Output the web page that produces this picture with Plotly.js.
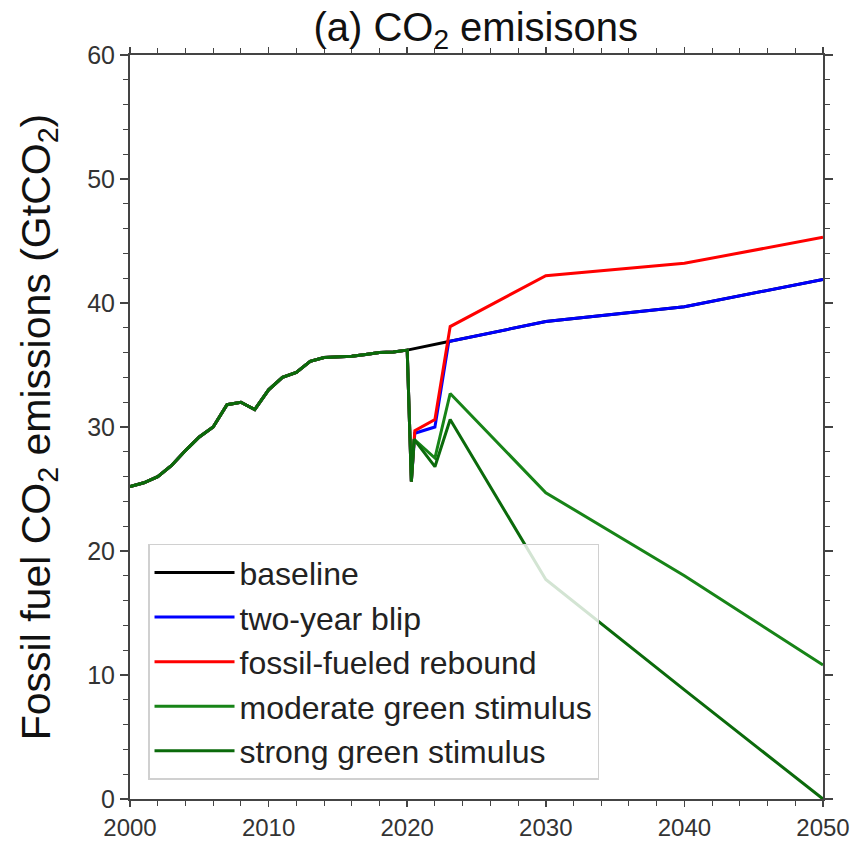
<!DOCTYPE html>
<html>
<head>
<meta charset="utf-8">
<script src="https://cdn.plot.ly/plotly-3.0.1.min.js"></script>
<style>html,body{margin:0;padding:0;background:#fff;}#chart{width:854px;height:842px;}</style>
</head>
<body>
<div id="chart"></div>
<script>
// Historical emissions shared by all scenarios (GtCO2)
const histYears  = [2000,2001,2002,2003,2004,2005,2006,2007,2008,2009,2010,2011,2012,2013,2014,2015,2016,2017,2018,2019,2020];
const histValues = [25.2,25.5,26.0,26.9,28.1,29.2,30.0,31.8,32.0,31.4,33.0,34.0,34.4,35.3,35.6,35.65,35.7,35.85,36.0,36.05,36.2];

// Scenario paths after 2020
const baselineYears  = [2023,2030,2040,2050];
const baselineValues = [36.9,38.5,39.7,41.9];

const blipYears   = [2020.3,2020.55,2022,2023,2030,2040,2050];
const blipValues  = [25.6,29.5,30.0,36.9,38.5,39.7,41.9];

const reboundYears  = [2020.3,2020.55,2022,2023.1,2030,2040,2050];
const reboundValues = [25.6,29.7,30.6,38.1,42.2,43.2,45.3];

const moderateYears  = [2020.3,2020.5,2022,2023.1,2030,2040,2050];
const moderateValues = [25.6,29.0,27.5,32.7,24.7,18.0,10.8];

const strongYears  = [2020.3,2020.5,2022,2023.1,2030,2040,2050];
const strongValues = [25.6,29.0,26.8,30.6,17.7,8.8,0.0];

const seriesNames = ["baseline","two-year blip","fossil-fueled rebound","moderate green stimulus","strong green stimulus"];
const seriesColors = ["#000000","#0000ff","#ff0000","#178417","#0b6a0b"];

const yearsList = [baselineYears, blipYears, reboundYears, moderateYears, strongYears];
const valuesList = [baselineValues, blipValues, reboundValues, moderateValues, strongValues];

const traces = seriesNames.map((name, i) => ({
  type: 'scatter',
  mode: 'lines',
  name: name,
  x: histYears.concat(yearsList[i]),
  y: histValues.concat(valuesList[i]),
  line: {color: seriesColors[i], width: 3}
}));

const axisCommon = {
  showgrid: false,
  zeroline: false,
  showline: true,
  linecolor: '#444',
  linewidth: 2,
  mirror: 'allticks',
  ticks: 'outside',
  ticklen: 8,
  tickwidth: 1.5,
  tickcolor: '#444',
  tickfont: {family: 'Liberation Sans, Arial, sans-serif', size: 25, color: '#333'},
  minor: {dtick: 2, ticks: 'outside', ticklen: 5, tickwidth: 1, tickcolor: '#444'}
};

const layout = {
  width: 854,
  height: 842,
  margin: {l: 130, r: 31, t: 55, b: 43},
  paper_bgcolor: '#fff',
  plot_bgcolor: '#fff',
  showlegend: true,
  font: {family: 'Liberation Sans, Arial, sans-serif', color: '#000'},
  title: {
    text: '(a) CO<sub>2</sub> emisisons',
    font: {size: 40, color: '#111'},
    x: 0.557, xanchor: 'center',
    y: 0.968, yanchor: 'middle'
  },
  xaxis: Object.assign({}, axisCommon, {
    range: [2000, 2050],
    dtick: 10,
    tick0: 2000,
    ticklen: 6,
    tickfont: {family: 'Liberation Sans, Arial, sans-serif', size: 24, color: '#333'}
  }),
  yaxis: Object.assign({}, axisCommon, {
    range: [0, 60],
    dtick: 10,
    tick0: 0,
    title: {
      text: 'Fossil fuel CO<sub>2</sub> emissions (GtCO<sub>2</sub>)',
      font: {size: 41, color: '#111'},
      standoff: 24
    }
  }),
  legend: {
    x: 0.026, y: 0.026, xanchor: 'left', yanchor: 'bottom',
    bgcolor: 'rgba(255,255,255,0.82)',
    bordercolor: '#d0d0d0',
    borderwidth: 1.5,
    font: {size: 32, color: '#222'},
    itemwidth: 80
  }
};

Plotly.newPlot('chart', traces, layout, {staticPlot: true, displayModeBar: false});
</script>
</body>
</html>
